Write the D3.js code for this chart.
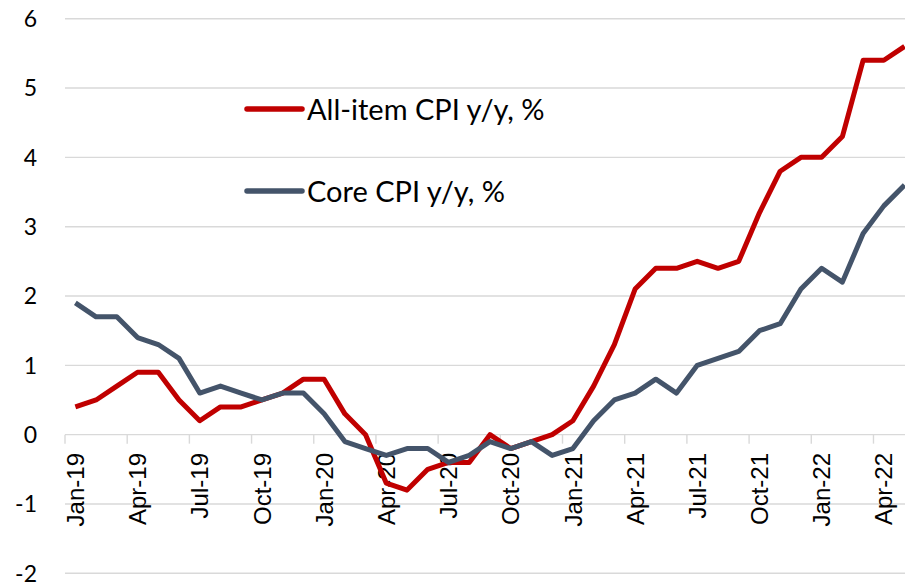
<!DOCTYPE html>
<html>
<head>
<meta charset="utf-8">
<script src="https://cdn.jsdelivr.net/npm/d3@7"></script>
<style>
  html, body { margin: 0; padding: 0; background: #fff; }
  svg { display: block; }
</style>
</head>
<body>
<svg id="chart" width="905" height="585"></svg>
<script>
// months, Jan-19 .. May-22
const months = [
  'Jan-19','Feb-19','Mar-19','Apr-19','May-19','Jun-19','Jul-19','Aug-19','Sep-19','Oct-19','Nov-19','Dec-19',
  'Jan-20','Feb-20','Mar-20','Apr-20','May-20','Jun-20','Jul-20','Aug-20','Sep-20','Oct-20','Nov-20','Dec-20',
  'Jan-21','Feb-21','Mar-21','Apr-21','May-21','Jun-21','Jul-21','Aug-21','Sep-21','Oct-21','Nov-21','Dec-21',
  'Jan-22','Feb-22','Mar-22','Apr-22','May-22'
];

const tickLabels = ['Jan-19','Apr-19','Jul-19','Oct-19','Jan-20','Apr-20','Jul-20','Oct-20',
  'Jan-21','Apr-21','Jul-21','Oct-21','Jan-22','Apr-22'];

const yTicks = [-2, -1, 0, 1, 2, 3, 4, 5, 6];

const allItem = [
  0.4, 0.5, 0.7, 0.9, 0.9, 0.5, 0.2, 0.4, 0.4, 0.5, 0.6, 0.8,
  0.8, 0.3, 0.0, -0.7, -0.8, -0.5, -0.4, -0.4, 0.0, -0.2, -0.1, 0.0,
  0.2, 0.7, 1.3, 2.1, 2.4, 2.4, 2.5, 2.4, 2.5, 3.2, 3.8, 4.0,
  4.0, 4.3, 5.4, 5.4, 5.6
];

const core = [
  1.9, 1.7, 1.7, 1.4, 1.3, 1.1, 0.6, 0.7, 0.6, 0.5, 0.6, 0.6,
  0.3, -0.1, -0.2, -0.3, -0.2, -0.2, -0.4, -0.3, -0.1, -0.2, -0.1, -0.3,
  -0.2, 0.2, 0.5, 0.6, 0.8, 0.6, 1.0, 1.1, 1.2, 1.5, 1.6, 2.1,
  2.4, 2.2, 2.9, 3.3, 3.6
];

const series = [
  {label: 'All-item CPI y/y, %', values: allItem, color: '#C00000'},
  {label: 'Core CPI y/y, %', values: core, color: '#44546A'}
];

const svg = d3.select('#chart');
const gridColor = '#D9D9D9';

// plot area: the band runs past the right edge of the picture
const left = 65, step = 20.73;
const x = d3.scaleBand()
  .domain(months)
  .range([left, left + step * months.length])
  .paddingInner(0)
  .paddingOuter(0);

const y = d3.scaleLinear().domain([-2, 6]).range([573.3, 18.7]);
const cx = m => x(m) + x.bandwidth() / 2;

// gridlines
svg.append('g')
  .selectAll('line')
  .data(yTicks)
  .join('line')
    .attr('x1', left)
    .attr('x2', 905)
    .attr('y1', d => y(d))
    .attr('y2', d => y(d))
    .attr('stroke', gridColor)
    .attr('stroke-width', 1.4);

// y labels
svg.append('g')
  .selectAll('text')
  .data(yTicks)
  .join('text')
    .attr('x', 37)
    .attr('y', d => y(d))
    .attr('dy', '0.36em')
    .attr('text-anchor', 'end')
    .attr('font-family', 'Lato, sans-serif')
    .attr('font-size', 23)
    .attr('fill', '#000')
    .text(d => d);

// category tick marks on the zero line (every quarter boundary)
svg.append('g')
  .selectAll('line')
  .data(tickLabels)
  .join('line')
    .attr('x1', d => x(d))
    .attr('x2', d => x(d))
    .attr('y1', y(0))
    .attr('y2', y(0) + 9)
    .attr('stroke', gridColor)
    .attr('stroke-width', 1.4);

// x labels, rotated
svg.append('g')
  .selectAll('text')
  .data(tickLabels)
  .join('text')
    .attr('transform', d => `translate(${cx(d)},453) rotate(-90)`)
    .attr('dy', '0.36em')
    .attr('text-anchor', 'end')
    .attr('font-family', '"Liberation Sans", Arial, sans-serif')
    .attr('font-size', 24)
    .attr('fill', '#000')
    .text(d => d);

// lines
const line = d3.line()
  .x((d, i) => cx(months[i]))
  .y(d => y(d));

svg.append('g')
  .selectAll('path')
  .data(series)
  .join('path')
    .attr('d', d => line(d.values))
    .attr('fill', 'none')
    .attr('stroke', d => d.color)
    .attr('stroke-width', 5)
    .attr('stroke-linejoin', 'round');

// legend
const legend = svg.append('g')
  .selectAll('g')
  .data(series)
  .join('g')
    .attr('transform', (d, i) => `translate(247,${109 + i * 82})`);

legend.append('line')
  .attr('x1', 0)
  .attr('x2', 55)
  .attr('stroke', d => d.color)
  .attr('stroke-width', 5.5)
  .attr('stroke-linecap', 'round');

legend.append('text')
  .attr('x', 60)
  .attr('y', 10.5)
  .attr('font-family', 'Lato, sans-serif')
  .attr('font-size', 29)
  .attr('fill', '#000')
  .text(d => d.label);
</script>
</body>
</html>
